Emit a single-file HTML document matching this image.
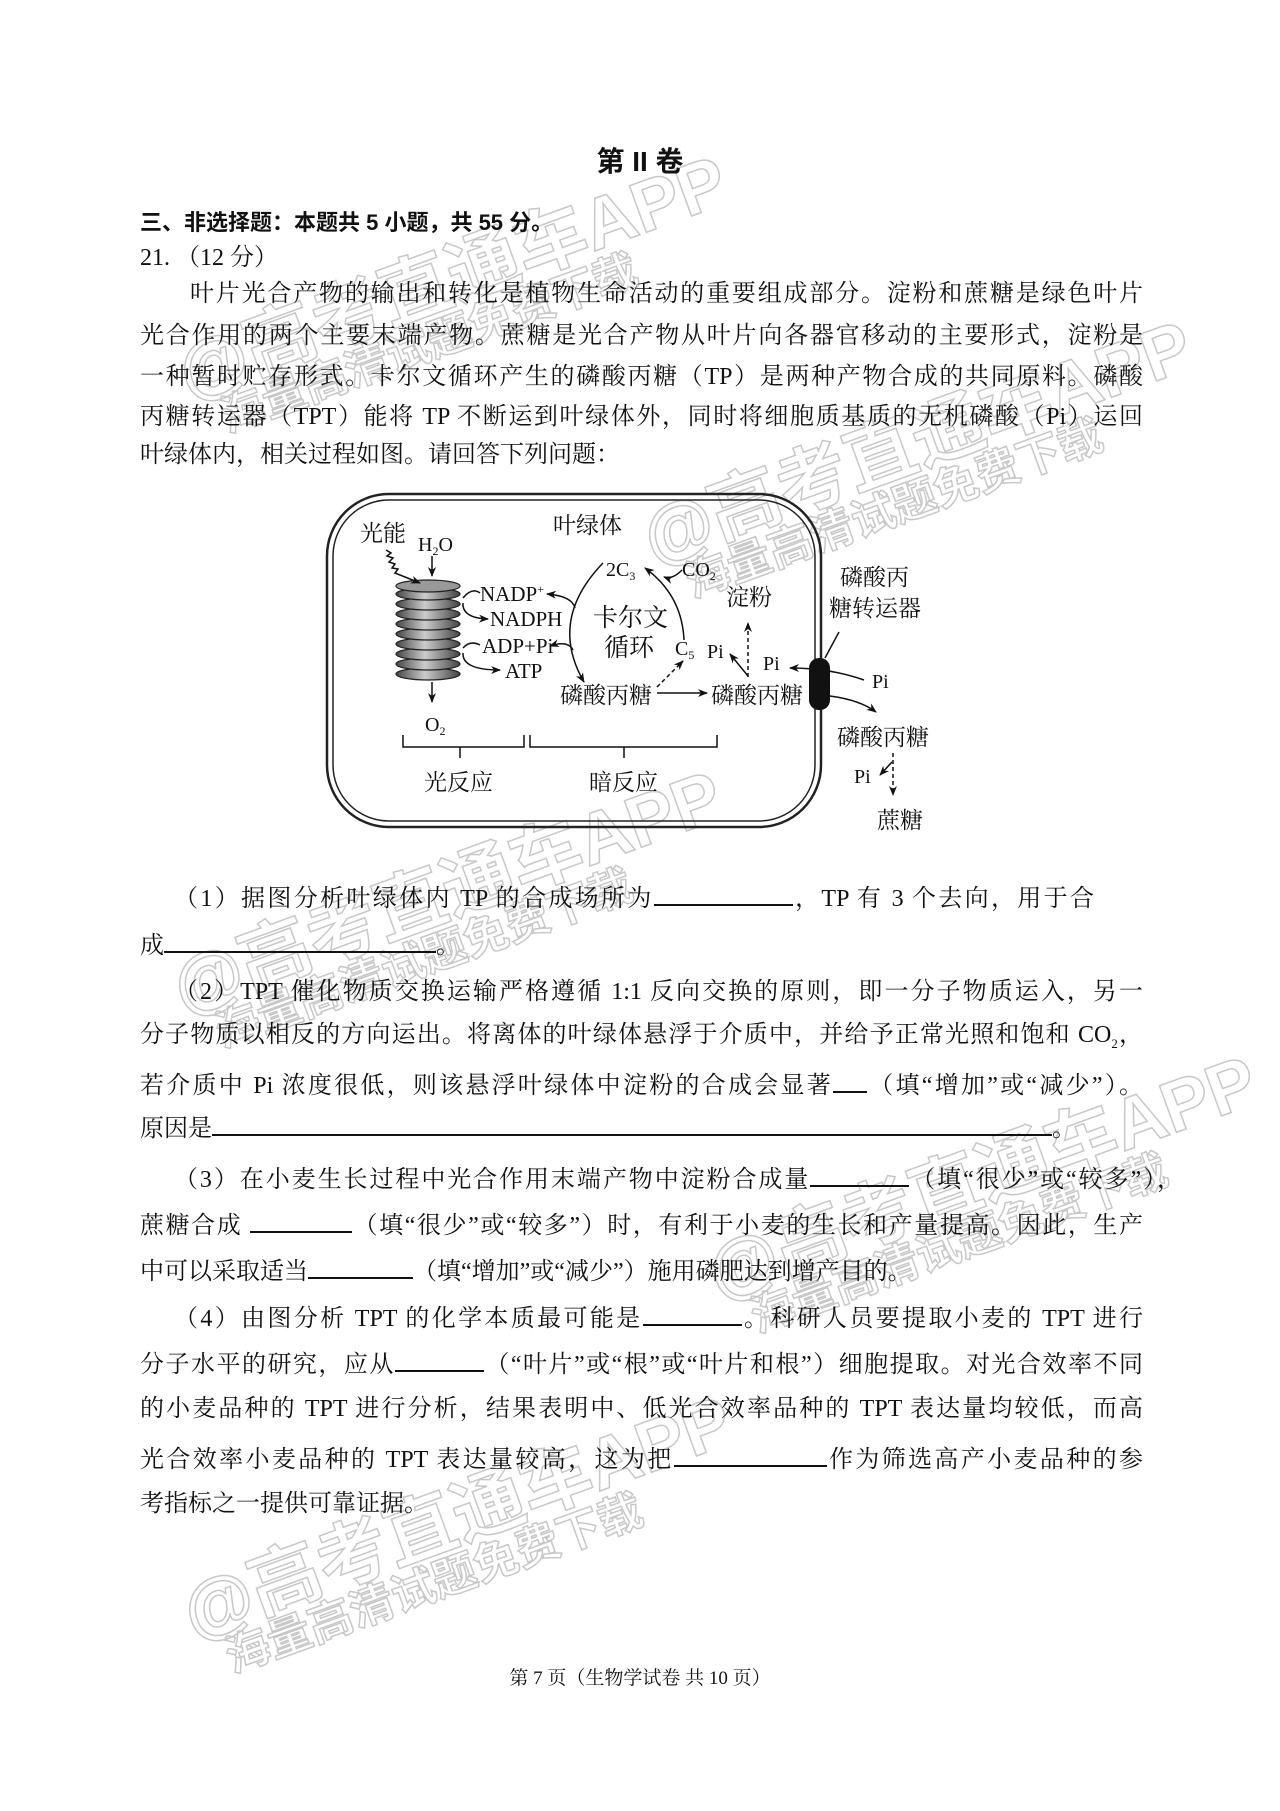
<!DOCTYPE html>
<html><head><meta charset="utf-8"><style>
*{margin:0;padding:0;box-sizing:border-box}
body{width:1280px;height:1811px;background:#fff;position:relative;overflow:hidden;font-family:"Liberation Serif","Noto Serif CJK SC",serif;color:#111}
.l{position:absolute;font-size:24px;line-height:30px;white-space:nowrap}
.j{text-align:justify;text-align-last:justify;white-space:normal}
.b{display:inline-block;border-bottom:2px solid #111;height:24px;vertical-align:baseline}
.h{font-family:"Liberation Sans","Noto Sans CJK SC",sans-serif;font-weight:bold}
.wm{position:absolute;color:transparent;-webkit-text-stroke:1.5px #c8c8c8;font-family:"Liberation Sans","Noto Sans CJK SC",sans-serif;font-weight:bold;white-space:nowrap;transform-origin:left top}
svg text{font-family:"Liberation Serif","Noto Serif CJK SC",serif}
</style></head><body>

<div class="wm" style="left:160px;top:320px;font-size:72px;transform:rotate(-20deg)">@高考直通车APP</div>
<div class="wm" style="left:210px;top:385px;font-size:44px;transform:rotate(-20deg)">海量高清试题免费下载</div>
<div class="wm" style="left:625px;top:485px;font-size:72px;transform:rotate(-20deg)">@高考直通车APP</div>
<div class="wm" style="left:675px;top:550px;font-size:44px;transform:rotate(-20deg)">海量高清试题免费下载</div>
<div class="wm" style="left:155px;top:935px;font-size:72px;transform:rotate(-20deg)">@高考直通车APP</div>
<div class="wm" style="left:205px;top:1000px;font-size:44px;transform:rotate(-20deg)">海量高清试题免费下载</div>
<div class="wm" style="left:690px;top:1220px;font-size:72px;transform:rotate(-20deg)">@高考直通车APP</div>
<div class="wm" style="left:740px;top:1285px;font-size:44px;transform:rotate(-20deg)">海量高清试题免费下载</div>
<div class="wm" style="left:165px;top:1560px;font-size:72px;transform:rotate(-20deg)">@高考直通车APP</div>
<div class="wm" style="left:215px;top:1625px;font-size:44px;transform:rotate(-20deg)">海量高清试题免费下载</div>

<div class="l h" style="left:0;width:1280px;text-align:center;top:145px;font-size:28px;line-height:34px">第 II 卷</div>
<div class="l h" style="left:140px;top:208px;font-size:22px">三、非选择题：本题共 5 小题，共 55 分。</div>
<div class="l" style="left:140px;top:243px">21.&nbsp;（12 分）</div>

<div class="l j" style="left:140px;width:1003px;top:279px;padding-left:50px">叶片光合产物的输出和转化是植物生命活动的重要组成部分。淀粉和蔗糖是绿色叶片</div>
<div class="l j" style="left:140px;width:1003px;top:321px">光合作用的两个主要末端产物。蔗糖是光合产物从叶片向各器官移动的主要形式，淀粉是</div>
<div class="l j" style="left:140px;width:1003px;top:362px">一种暂时贮存形式。卡尔文循环产生的磷酸丙糖（TP）是两种产物合成的共同原料。磷酸</div>
<div class="l j" style="left:140px;width:1003px;top:402px">丙糖转运器（TPT）能将 TP 不断运到叶绿体外，同时将细胞质基质的无机磷酸（Pi）运回</div>
<div class="l" style="left:140px;top:440px">叶绿体内，相关过程如图。请回答下列问题：</div>

<svg style="position:absolute;left:0;top:0" width="1280" height="1811" viewBox="0 0 1280 1811">
<defs>
<marker id="a" markerWidth="10" markerHeight="8" refX="9" refY="4" orient="auto" markerUnits="userSpaceOnUse"><path d="M0,0 L10,4 L0,8 L3,4z" fill="#111"/></marker>
<linearGradient id="g" x1="0" x2="1"><stop offset="0" stop-color="#444"/><stop offset="0.45" stop-color="#ccc"/><stop offset="1" stop-color="#444"/></linearGradient>
</defs>
<g fill="none" stroke="#222">
<rect x="327" y="494" width="494" height="333" rx="62" stroke-width="2.5"/>
<rect x="333" y="500" width="482" height="321" rx="56" stroke-width="1.5"/>
</g>
<g fill="url(#g)" stroke="#222" stroke-width="1.2">
<ellipse cx="428" cy="674" rx="32" ry="6"/>
<ellipse cx="428" cy="664" rx="32" ry="6"/>
<ellipse cx="428" cy="654" rx="32" ry="6"/>
<ellipse cx="428" cy="644" rx="32" ry="6"/>
<ellipse cx="428" cy="634" rx="32" ry="6"/>
<ellipse cx="428" cy="624" rx="32" ry="6"/>
<ellipse cx="428" cy="614" rx="32" ry="6"/>
<ellipse cx="428" cy="604" rx="32" ry="6"/>
<ellipse cx="428" cy="594" rx="32" ry="6"/>
<ellipse cx="428" cy="586" rx="32" ry="6" fill="#999"/>
</g>
<g fill="none" stroke="#111" stroke-width="1.5" marker-end="url(#a)">
<path d="M386,550 l5,3 -4,3 6,2 -4,4 6,2 -3,4 6,1 -3,4 25,10"/>
<path d="M432,556 L432,576"/>
<path d="M432,682 L432,702"/>
<path d="M463,603 Q462,618 488,619"/>
<path d="M463,653 Q462,670 500,670"/>
<path d="M575,608 Q572,596 547,594"/>
<path d="M573,650 Q568,640 550,646"/>
<path d="M603,563 Q548,620 584,682"/>
<path d="M684,640 Q682,595 645,568"/>
<path d="M682,570 Q672,580 664,577"/>
<path d="M657,693 L707,693"/>
<path d="M657,687 L683,661" stroke-dasharray="4,3"/>
<path d="M748,677 L748,623" stroke-dasharray="4,3"/>
<path d="M748,676 L730,654"/>
<path d="M864,680 Q830,668 790,668"/>
<path d="M830,696 Q860,700 876,712"/>
<path d="M893,753 L893,795" stroke-dasharray="4,3"/>
<path d="M892,762 L880,775"/>
</g>
<path d="M463,598 Q472,587 480,593 M463,648 Q470,640 480,645" fill="none" stroke="#111" stroke-width="1.5"/>
<rect x="809" y="658" width="21" height="52" rx="10" fill="#111"/>
<path d="M839,632 L825,658" stroke="#111" stroke-width="1.5"/>
<g fill="none" stroke="#111" stroke-width="1.5">
<path d="M403,735 V747 H524 V735 M460,747 V758"/>
<path d="M530,735 V747 H717 V735 M624,747 V758"/>
</g>
<g font-size="23" fill="#111">
<text x="360" y="541">光能</text>
<text x="418" y="551" font-size="20">H<tspan font-size="12" dy="4">2</tspan><tspan dy="-4">O</tspan></text>
<text x="553" y="533">叶绿体</text>
<text x="480" y="601" font-size="21">NADP<tspan font-size="12" dy="-8">+</tspan></text>
<text x="490" y="626" font-size="21">NADPH</text>
<text x="482" y="653" font-size="21">ADP+Pi</text>
<text x="505" y="678" font-size="21">ATP</text>
<text x="425" y="731" font-size="20">O<tspan font-size="12" dy="4">2</tspan></text>
<text x="606" y="576" font-size="20">2C<tspan font-size="12" dy="4">3</tspan></text>
<text x="682" y="576" font-size="20">CO<tspan font-size="12" dy="4">2</tspan></text>
<text x="593" y="626" font-size="25">卡尔文</text>
<text x="604" y="656" font-size="25">循环</text>
<text x="675" y="655" font-size="20">C<tspan font-size="12" dy="4">5</tspan></text>
<text x="560" y="703">磷酸丙糖</text>
<text x="711" y="703">磷酸丙糖</text>
<text x="726" y="605">淀粉</text>
<text x="707" y="658" font-size="20">Pi</text>
<text x="763" y="670" font-size="20">Pi</text>
<text x="840" y="585">磷酸丙</text>
<text x="829" y="616">糖转运器</text>
<text x="872" y="688" font-size="20">Pi</text>
<text x="837" y="745">磷酸丙糖</text>
<text x="854" y="783" font-size="20">Pi</text>
<text x="877" y="828">蔗糖</text>
<text x="424" y="790">光反应</text>
<text x="589" y="790">暗反应</text>
</g>
</svg>

<div class="l j" style="left:140px;width:954px;top:882px;padding-left:34px">（1）据图分析叶绿体内 TP 的合成场所为<span class="b" style="width:139px"></span>，TP 有 3 个去向，用于合</div>
<div class="l" style="left:140px;top:929px">成<span class="b" style="width:272px"></span>。</div>

<div class="l j" style="left:140px;width:1003px;top:977px;padding-left:34px">（2）TPT 催化物质交换运输严格遵循 1:1 反向交换的原则，即一分子物质运入，另一</div>
<div class="l j" style="left:140px;width:1003px;top:1020px">分子物质以相反的方向运出。将离体的叶绿体悬浮于介质中，并给予正常光照和饱和 CO<sub style="font-size:13px">2</sub>，</div>
<div class="l j" style="left:140px;width:1003px;top:1069px">若介质中 Pi 浓度很低，则该悬浮叶绿体中淀粉的合成会显著<span class="b" style="width:34px"></span>（填“增加”或“减少”）。</div>
<div class="l" style="left:140px;top:1112px">原因是<span class="b" style="width:840px"></span>。</div>

<div class="l j" style="left:140px;width:1041px;top:1163px;padding-left:34px">（3）在小麦生长过程中光合作用末端产物中淀粉合成量<span class="b" style="width:99px"></span>（填“很少”或“较多”），</div>
<div class="l j" style="left:140px;width:1003px;top:1209px">蔗糖合成 <span class="b" style="width:102px"></span>（填“很少”或“较多”）时，有利于小麦的生长和产量提高。因此，生产</div>
<div class="l" style="left:140px;top:1255px">中可以采取适当<span class="b" style="width:105px"></span>（填“增加”或“减少”）施用磷肥达到增产目的。</div>

<div class="l j" style="left:140px;width:1003px;top:1302px;padding-left:34px">（4）由图分析 TPT 的化学本质最可能是<span class="b" style="width:99px"></span>。科研人员要提取小麦的 TPT 进行</div>
<div class="l j" style="left:140px;width:1003px;top:1348px">分子水平的研究，应从<span class="b" style="width:89px"></span>（“叶片”或“根”或“叶片和根”）细胞提取。对光合效率不同</div>
<div class="l j" style="left:140px;width:1003px;top:1394px">的小麦品种的 TPT 进行分析，结果表明中、低光合效率品种的 TPT 表达量均较低，而高</div>
<div class="l j" style="left:140px;width:1003px;top:1443px">光合效率小麦品种的 TPT 表达量较高，这为把<span class="b" style="width:153px"></span>作为筛选高产小麦品种的参</div>
<div class="l" style="left:140px;top:1489px">考指标之一提供可靠证据。</div>

<div class="l" style="left:0;width:1280px;text-align:center;top:1664px;font-size:19px">第 7 页（生物学试卷 共 10 页）</div>
</body></html>
